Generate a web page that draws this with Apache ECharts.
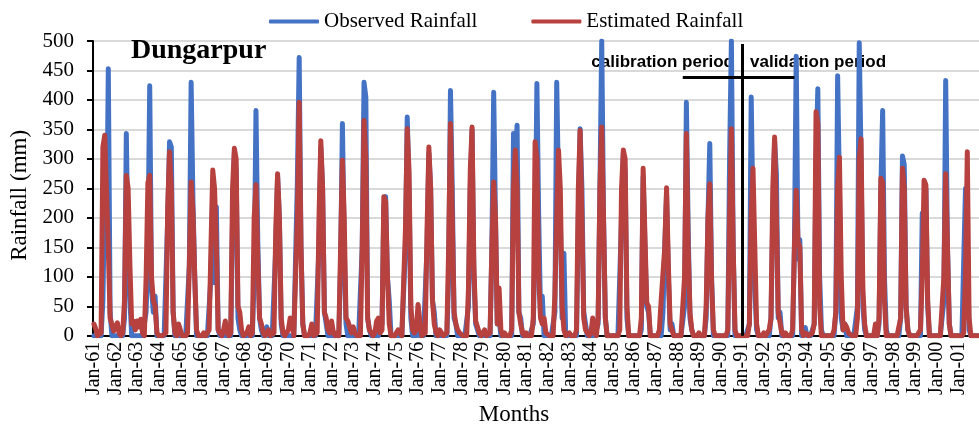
<!DOCTYPE html>
<html>
<head>
<meta charset="utf-8">
<script src="https://cdn.jsdelivr.net/npm/echarts@6/dist/echarts.min.js"></script>
<style>html,body{margin:0;padding:0;background:#fff;}#c{width:979px;height:431px;}</style>
</head>
<body>
<div id="c"></div>
<script>
// ---- DATA ----
const years = [];
for (let y = 1961; y <= 2001; y++) years.push(y);
const monthNames = ['Jan','Feb','Mar','Apr','May','Jun','Jul','Aug','Sep','Oct','Nov','Dec'];
const yTicks = [0,50,100,150,200,250,300,350,400,450,500];

// Observed monthly rainfall (mm), one row per year
const observed60s = [
  0,0,0,0,0,60,250,135,453,40,0,0,      // 1961
  0,0,0,0,0,30,343,135,60,0,0,0,        // 1962
  0,0,0,0,0,40,150,424,80,40,67,0,      // 1963
  0,0,0,0,0,200,329,320,40,0,0,0,       // 1964
  0,0,0,0,0,120,430,230,100,0,0,0,      // 1965
  0,0,0,0,0,100,244,90,219,10,0,0,      // 1966
  0,0,0,0,0,200,310,280,30,10,0,0,      // 1967
  0,0,0,0,0,100,382,160,30,10,0,0,      // 1968
  15,0,0,0,0,150,270,200,20,0,0,0       // 1969
];
const observed70s = [
  0,0,0,0,0,264,472,150,20,0,0,0,       // 1970
  0,0,0,0,0,150,320,250,40,20,0,0,      // 1971
  0,0,0,0,0,120,360,150,20,0,0,0,       // 1972
  0,0,0,0,0,150,430,405,30,10,0,0,      // 1973
  0,0,0,0,20,220,236,100,60,0,0,0,      // 1974
  0,0,0,0,0,150,371,250,30,0,0,0,       // 1975
  20,0,0,0,0,150,310,250,60,40,0,0,     // 1976
  0,0,0,0,0,100,416,250,30,20,0,0,      // 1977
  0,0,0,0,50,250,350,100,20,10,0,0,     // 1978
  0,0,0,0,0,150,413,200,20,30,0,0       // 1979
];
const observed80s = [
  0,0,0,0,0,343,300,357,40,30,0,0,      // 1980
  0,0,0,0,20,150,428,200,40,67,0,0,     // 1981
  0,0,0,0,40,430,250,200,30,140,0,0,    // 1982
  0,0,0,0,0,200,351,250,40,20,0,0,      // 1983
  0,0,0,10,20,250,500,200,30,0,0,0,     // 1984
  0,0,0,0,0,200,310,280,30,0,0,0,       // 1985
  0,0,0,0,10,270,150,50,40,0,0,0,       // 1986
  0,0,0,0,40,150,240,100,10,20,0,0,     // 1987
  0,0,0,0,50,396,180,30,10,0,0,0,       // 1988
  0,0,0,0,30,200,326,100,0,0,0,0        // 1989
];
const observed90s = [
  0,0,0,0,0,300,500,150,0,0,0,0,        // 1990
  0,0,0,0,20,405,200,80,10,0,0,0,       // 1991
  0,0,0,0,30,200,330,275,30,40,0,0,     // 1992
  0,0,0,0,0,150,474,130,163,0,0,14,     // 1993
  0,0,0,0,20,300,419,100,10,0,0,0,      // 1994
  0,0,0,0,40,441,250,30,10,20,0,0,      // 1995
  0,0,0,0,50,497,300,50,10,0,0,0,       // 1996
  0,0,0,0,20,250,382,100,10,0,0,0,      // 1997
  0,0,0,0,30,305,290,50,10,0,0,0,       // 1998
  0,0,0,0,208,118,250,50,0,0,0,0,       // 1999
  0,0,0,0,60,433,150,20,0,0,0,0,        // 2000
  0,0,0,0,250,150,10,0,0,0,0,0          // 2001
];

// Estimated monthly rainfall (mm)
const estimated60s = [
  20,12,0,0,5,320,340,343,150,30,28,8,  // 1961
  5,22,5,0,5,60,272,250,120,20,25,10,   // 1962
  25,15,28,5,0,100,260,272,100,60,50,5, // 1963
  0,0,0,0,5,220,312,250,40,5,0,20,      // 1964
  20,0,0,0,5,120,261,210,100,10,0,0,    // 1965
  0,5,0,0,10,150,281,250,150,10,5,0,    // 1966
  10,25,5,0,5,250,318,300,50,40,10,0,   // 1967
  0,5,15,0,5,200,256,130,30,20,5,0,     // 1968
  5,10,0,0,5,180,275,200,30,5,0,0       // 1969
];
const estimated70s = [
  10,30,25,0,0,200,396,150,20,0,0,0,    // 1970
  5,20,0,0,5,200,331,250,40,30,10,5,    // 1971
  25,5,0,5,0,150,298,200,30,25,15,5,    // 1972
  15,5,0,0,0,150,365,300,30,10,10,0,    // 1973
  5,25,30,5,10,236,228,100,20,0,0,0,    // 1974
  0,10,5,0,0,180,351,280,50,10,5,10,    // 1975
  53,25,0,0,5,180,320,250,60,20,5,0,    // 1976
  10,5,0,0,5,150,360,200,40,20,10,5,    // 1977
  5,0,0,0,80,280,354,120,25,15,5,0,     // 1978
  5,10,0,0,5,150,261,200,20,81,10,0     // 1979
];
const estimated80s = [
  5,0,0,0,10,250,315,250,40,20,5,0,     // 1980
  5,0,0,0,30,329,300,100,30,20,30,5,    // 1981
  5,0,0,0,70,200,315,250,50,10,0,0,     // 1982
  5,0,0,0,10,250,348,200,30,10,5,0,     // 1983
  5,30,5,0,30,250,354,200,30,0,0,0,     // 1984
  0,0,0,0,10,250,315,300,50,0,0,0,      // 1985
  0,0,0,0,30,284,170,56,50,0,0,0,       // 1986
  0,0,10,60,60,150,251,120,20,10,0,0,   // 1987
  0,0,0,0,100,343,150,40,10,0,0,0,      // 1988
  5,0,0,0,50,200,258,90,10,0,0,0        // 1989
];
const estimated90s = [
  0,0,0,0,10,200,351,150,10,0,0,0,      // 1990
  0,0,0,0,20,200,284,150,20,0,0,0,      // 1991
  5,0,0,10,30,250,337,200,40,40,5,0,    // 1992
  5,0,0,0,10,150,247,160,150,10,0,5,    // 1993
  5,0,0,5,20,380,360,50,0,0,0,0,        // 1994
  0,0,0,10,40,250,303,100,10,20,15,5,   // 1995
  5,0,0,0,30,300,334,80,20,0,0,0,       // 1996
  0,0,20,0,30,267,260,60,0,0,0,0,       // 1997
  0,0,0,0,30,284,250,50,10,0,0,0,       // 1998
  0,0,0,10,100,264,256,60,0,0,0,0,      // 1999
  0,0,0,0,100,275,150,20,0,0,0,0,       // 2000
  0,0,0,5,100,312,30,0,0,0,0,0          // 2001
];

// ---- BUILD ----
const categories = [];
years.forEach(y => monthNames.forEach(m => categories.push(m + '-' + String(y % 100).padStart(2, '0'))));
const observed = [].concat(observed60s, observed70s, observed80s, observed90s);
const estimated = [].concat(estimated60s, estimated70s, estimated80s, estimated90s);

const serif = 'Liberation Serif';
const chart = echarts.init(document.getElementById('c'), null, {renderer: 'canvas'});
chart.setOption({
  animation: false,
  backgroundColor: '#fff',
  title: {
    text: 'Dungarpur', left: 126, top: 32,
    textStyle: {fontFamily: serif, fontWeight: 'bold', fontSize: 28, color: '#000'}
  },
  legend: {
    left: 264, top: 6, itemWidth: 50, itemHeight: 4, itemGap: 54, icon: 'roundRect',
    textStyle: {fontFamily: serif, fontSize: 21, color: '#000'},
    data: ['Observed Rainfall', 'Estimated Rainfall']
  },
  grid: {left: 93, right: 0, top: 41, bottom: 93, containLabel: false},
  xAxis: {
    type: 'category', data: categories, boundaryGap: true,
    name: 'Months', nameLocation: 'middle', nameGap: 66,
    nameTextStyle: {fontFamily: serif, fontSize: 23, color: '#000', padding: [0, 44, 0, 0]},
    axisLine: {lineStyle: {color: '#000', width: 2}},
    axisTick: {interval: 11, length: 5, lineStyle: {color: '#000', width: 2}},
    axisLabel: {interval: 11, rotate: 90, margin: 6, fontFamily: serif, fontSize: 20, color: '#000'},
    splitLine: {show: false}
  },
  yAxis: {
    type: 'value', min: 0, max: 500, interval: 50,
    name: 'Rainfall (mm)', nameLocation: 'middle', nameGap: 62,
    nameTextStyle: {fontFamily: serif, fontSize: 23, color: '#000', padding: [0, 14, 0, 0]},
    axisLine: {show: true, lineStyle: {color: '#000', width: 2}},
    axisTick: {show: true, length: 6, lineStyle: {color: '#000', width: 2}},
    axisLabel: {margin: 19, fontFamily: serif, fontSize: 21, color: '#000'},
    splitLine: {lineStyle: {color: '#D9D9D9', width: 2}}
  },
  series: [
    {
      name: 'Observed Rainfall', type: 'line', data: observed, symbol: 'none',
      itemStyle: {color: '#4472C4'},
      lineStyle: {color: '#4472C4', width: 5, join: 'round', cap: 'round'}, clip: true
    },
    {
      name: 'Estimated Rainfall', type: 'line', data: estimated, symbol: 'none',
      itemStyle: {color: '#B7413E'},
      lineStyle: {color: '#B7413E', width: 5, join: 'round', cap: 'round'}, clip: true,
      markLine: {
        silent: true, symbol: ['none', 'none'], animation: false,
        label: {show: false},
        lineStyle: {color: '#000', width: 3, type: 'solid'},
        data: [
          [{coord: ['Jan-91', 495]}, {coord: ['Jan-91', 0]}],
          [{coord: ['Apr-88', 438]}, {coord: ['Jun-93', 438]}]
        ]
      }
    }
  ],
  graphic: [
    {type: 'text', right: 979 - 734, top: 54,
     style: {text: 'calibration period', font: 'bold 17px "Liberation Sans"', fill: '#000'}},
    {type: 'text', left: 750, top: 54,
     style: {text: 'validation period', font: 'bold 17px "Liberation Sans"', fill: '#000'}}
  ]
});
</script>
</body>
</html>
